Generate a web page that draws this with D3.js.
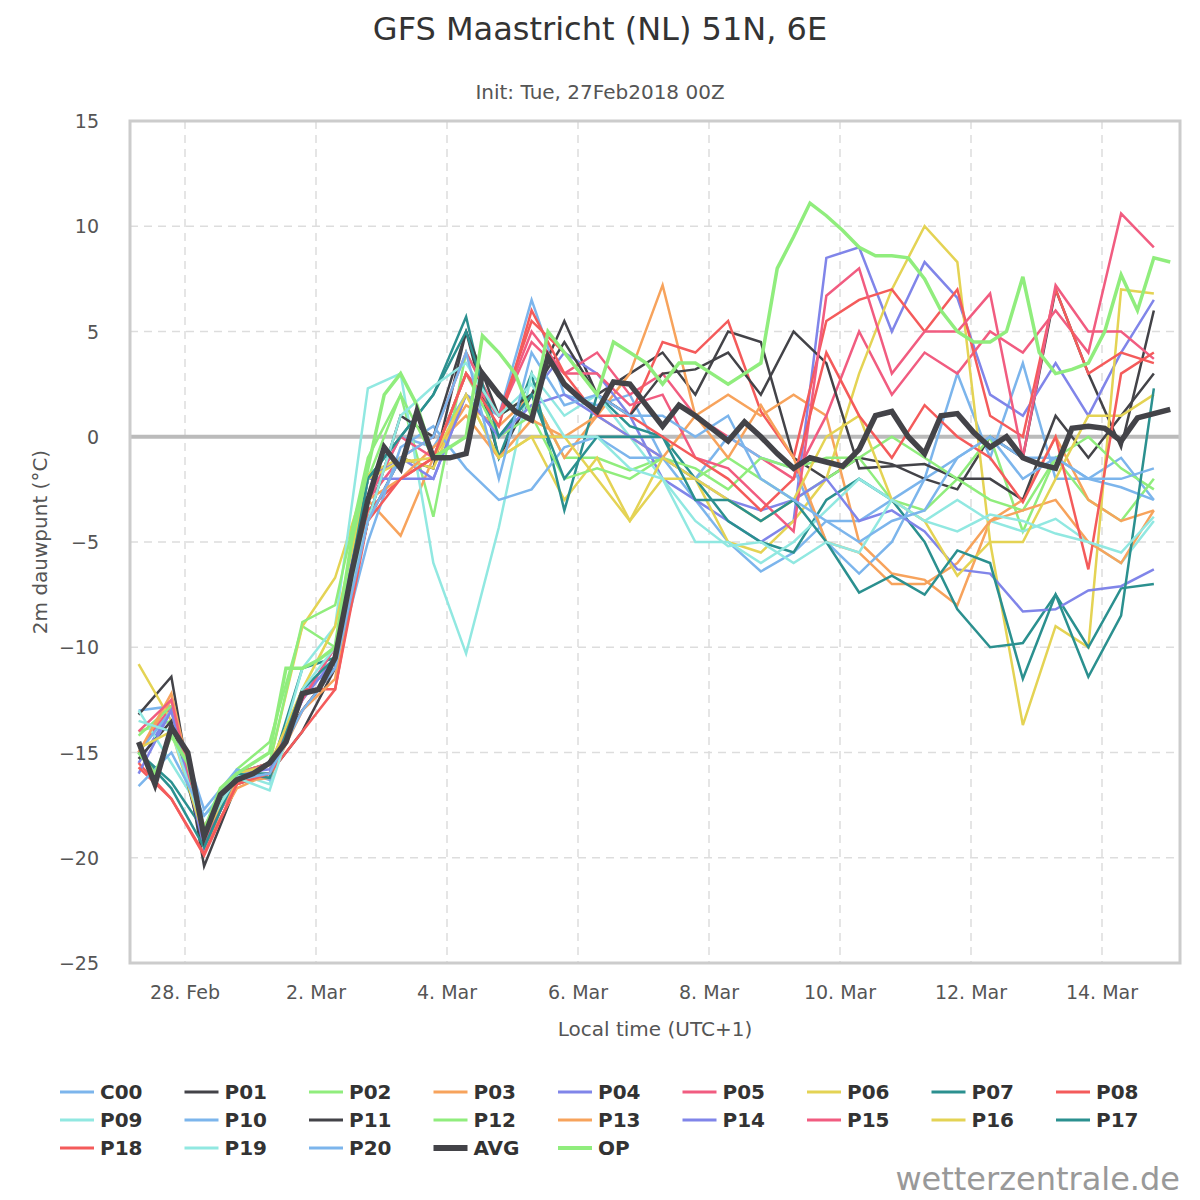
<!DOCTYPE html>
<html><head><meta charset="utf-8">
<script src="https://cdn.jsdelivr.net/npm/d3@7"></script>
<style>body{margin:0;background:#fff}text{font-family:"DejaVu Sans",sans-serif}</style>
</head><body><svg id="c" width="1200" height="1200"></svg>
<script>
// hours after init (27 Feb 00Z); local = UTC+1
const memberStep = 12, avgStep = 6, firstHour = 6;
const tickLabels = ["28. Feb","2. Mar","4. Mar","6. Mar","8. Mar","10. Mar","12. Mar","14. Mar"];
const yTicks = [15,10,5,0,-5,-10,-15,-20,-25];
const names = ["C00","P01","P02","P03","P04","P05","P06","P07","P08","P09","P10","P11","P12","P13","P14","P15","P16","P17","P18","P19","P20"];
const palette = ["#7cb5ec","#434348","#90ed7d","#f7a35c","#8085e9","#f15c80","#e4d354","#2b908f","#f45b5b","#91e8e1"];
const members = [
[-13,-12.8,-18.5,-16,-16.2,-12,-11,-3,0,-0.5,2,1,6.5,2,1.5,2,-1,-3,-5,-6.4,-5.5,-4,-4,-3,-2,3,-1,3.5,-2,-2,-1,-3],
[-13.2,-11.4,-20.4,-16.5,-16,-14,-11,-4,-1,-1.5,5,-1,2,5.5,2,3,4,2,5,4.5,-1,-2,-1,-1.3,-2,-2.5,0,-1,7,3,-0.5,6],
[-14,-13.5,-19.3,-15.8,-14.5,-9,-10,-2,2,-3.8,4,1,2,-1,-1,-1.6,-1,-2,-1,-2,-3,-2,-1,-3,-3.5,-2,0,-4.5,-1,-3,-4,-2],
[-15,-12.5,-19.5,-16.7,-16,-13,-11,-3,-4.7,-1,1.5,0.5,2,-1,1,3,7.2,1,2,1,2,1,-5,-6.5,-6.8,-8,-4,-3,0,-3,-4,-3.5],
[-15.5,-13,-19,-16.2,-16,-12.5,-10,-2,-1,-2,2,0,2,4,3,1,-2,-3,-4,-5,-4,8.5,9,5,8.3,6.6,2,1,3.5,1,4,6.5],
[-15,-12.8,-19,-16.5,-16,-13,-11,-3,-1,0,4,1,4.5,3,4,2,3,1,0,-1,-2,1,5,2,4,3,5,4,6,4,10.6,9],
[-10.8,-13.5,-18.5,-16,-15.5,-9,-6.7,-1.8,-1,-1.5,2,-1,0,-3,-1,-4,-2,-2,-5,-5.5,-4,-2,3,7,10,8.3,-5,-13.7,-9,-10,7,6.8],
[-15,-16.4,-18.7,-16,-16,-11,-10.5,-2,0,2,5.7,-1,3,-3.5,2,0.5,0,-2,-4,-5,-5.5,-3,-2,-3,-5,-8.2,-10,-9.8,-7.5,-10,-7.2,-7],
[-15.5,-17.2,-19.8,-16.5,-16,-12,-12,-3.5,-2,-1,3,1,5.5,4,2,1,4.5,4,5.5,1.2,-1,5.5,6.5,7,5,7,1,0,7,3,4,3.5],
[-13,-15.5,-18,-16,-16.5,-11,-9,2.3,3,-6,-10.3,-4.3,3,1,2,0,-2,-5,-5,-6,-5,-3.5,-2,-3,-4,-3,-4,-4.5,-3.9,-5,-6,-4],
[-15,-13,-17.7,-15.8,-16.3,-12,-11,-5,-0.5,0.5,-1.5,-3,-2.5,-0.5,0,-1,-1,-2,0,-1,-1.5,-5,-6.5,-5,-2,-1,0,-1,-1,-2,-2.4,-3],
[-15.3,-13.5,-19.5,-16,-15.5,-13,-11,-4,1,0,5,1,2,4.5,2,1,3,3.2,4,2,5,3.5,-1.5,-1.4,-1.3,-2,-2,-3,1,-1,1,3],
[-14.2,-12.8,-19,-16,-15.5,-8.8,-8,-1,2,-1,3,0,1,-2,-1.5,-2,-1,-1.5,-2.5,-1,-1.5,-1,-1,0,-1,-2,-3,-3.5,-1,0,-1.5,-2.5],
[-15,-12.2,-19,-16.4,-16.2,-13,-11.5,-3,-2,-0.5,1,-1,0.8,0,1,0,-1,1,-1,1.5,-1,-5,-5.5,-7,-7,-6,-4,-3.5,-3,-5,-6,-3.5],
[-16,-13,-19.5,-16,-15.8,-12.5,-10.5,-2,-2,-2,2,0,1.5,2,1,0,-1,-2,-3,-3.5,-3,-2,-4,-3.5,-4.5,-6.3,-6.5,-8.3,-8.2,-7.3,-7.1,-6.3],
[-14,-12.5,-19.2,-16,-15.5,-12.5,-10,-3,0,-1,3,1,5,3,3,1.5,2,-1,-1.5,-3,-4.5,6.7,8,3,5,5,6.8,-1,7.2,5,5,3.7],
[-14.8,-14,-19,-16,-15.6,-12,-9,-2,-1.2,-1,2,-1,0,0,-2,-4,-1,-2,-3,-4,-3,0,1,-3,-4,-6.6,-5,-5,-2,1,1,2],
[-15,-16.7,-19.5,-16,-16.2,-12,-10.5,-2,0,2,5,0,2,-2,0,0,0,-3,-3,-4,-3,-5,-7.4,-6.6,-7.5,-5.4,-6,-11.5,-7.5,-11.4,-8.5,2.3],
[-15.7,-17.2,-19.9,-16.5,-16,-14,-12,-4,-2,-1,3,0.5,6,3,1,1,0,-1,-2,-3.5,-2,4,1,-1,1.5,0,-1,-3.1,0,-6.3,3,4],
[-13.5,-14,-18.7,-16.2,-16.8,-12,-10,-4,1,2.4,3.5,1,2.5,0,0,-1.5,-2,-4,-5.2,-5,-6,-5,-5.5,-3,-4,-4.5,-3.7,-4,-4.6,-5,-5.5,-3.8],
[-16.6,-15,-18,-16.3,-16,-13,-11,-4,-1,0,4,-2,4,1.5,2,1,1,0,1,-2,-3,-4,-5,-4,-3.5,-1,0,-2,-1,-2,-2,-1.5]
];
const avg = [-14.5,-16.5,-13.8,-15,-19,-17,-16.3,-16,-15.5,-14.5,-12.2,-12,-10.5,-6.5,-3,-0.5,-1.5,1.2,-1,-1,-0.8,3,2,1.2,0.8,3.8,2.5,1.8,1.2,2.6,2.5,1.5,0.5,1.5,1,0.4,-0.2,0.7,0,-0.8,-1.5,-1,-1.2,-1.4,-0.6,1,1.2,0,-0.8,1,1.1,0.2,-0.5,0,-1,-1.3,-1.5,0.4,0.5,0.4,-0.2,0.9,1.1,1.3];
const op = [-15,-16,-14.2,-15.5,-18.7,-16.7,-16,-15.5,-15,-11,-11,-10.6,-10,-5,-1.5,2,3,1.5,-1,-0.5,0,4.8,4,3,1,5,4,3,2,4.5,4,3.5,2.5,3.5,3.5,3,2.5,3,3.5,8,9.5,11.1,10.5,9.8,9,8.6,8.6,8.5,7.5,6,5,4.5,4.5,5,7.6,4,3,3.2,3.5,5,7.7,6,8.5,8.3];

const svg = d3.select("#c");
const L = 130, R = 1180, T = 121, B = 963;
// local hours since 28 Feb 00:00 -> 28 Feb at 185px, 14 Mar at 1102px
const x = d3.scaleLinear().domain([0, 336]).range([185, 1102]);
const y = d3.scaleLinear().domain([-25, 15]).range([B, T]);
const localH = h => h + 1 - 24;

svg.append("text").attr("x", 600).attr("y", 40).attr("text-anchor", "middle")
  .attr("font-size", 32).attr("fill", "#333").text("GFS Maastricht (NL) 51N, 6E");
svg.append("text").attr("x", 600).attr("y", 99).attr("text-anchor", "middle")
  .attr("font-size", 20).attr("fill", "#555").text("Init: Tue, 27Feb2018 00Z");

const grid = svg.append("g").attr("stroke", "#ddd").attr("stroke-dasharray", "8,6").attr("stroke-width", 1.5);
yTicks.forEach(v => grid.append("line").attr("x1", L).attr("x2", R).attr("y1", y(v)).attr("y2", y(v)));
tickLabels.forEach((t, i) => grid.append("line").attr("x1", x(i*48)).attr("x2", x(i*48)).attr("y1", T).attr("y2", B));

svg.append("line").attr("x1", L).attr("x2", R).attr("y1", y(0)).attr("y2", y(0))
  .attr("stroke", "#bbb").attr("stroke-width", 4);

svg.append("defs").append("clipPath").attr("id", "clip").append("rect")
  .attr("x", L).attr("y", T).attr("width", R - L).attr("height", B - T);
const plot = svg.append("g").attr("clip-path", "url(#clip)");

const line = step => d3.line().x((d, i) => x(localH(firstHour + i*step))).y(d => y(d));
members.forEach((m, i) => plot.append("path").attr("d", line(memberStep)(m)).attr("fill", "none")
  .attr("stroke", palette[i % 10]).attr("stroke-width", 2.5));
plot.append("path").attr("d", line(avgStep)(op)).attr("fill", "none").attr("stroke", "#90ed7d").attr("stroke-width", 3.5);
plot.append("path").attr("d", line(avgStep)(avg)).attr("fill", "none").attr("stroke", "#434348").attr("stroke-width", 5.5);

svg.append("rect").attr("x", L).attr("y", T).attr("width", R - L).attr("height", B - T)
  .attr("fill", "none").attr("stroke", "#ccc").attr("stroke-width", 3);

yTicks.forEach(v => svg.append("text").attr("x", 99).attr("y", y(v) + 7).attr("text-anchor", "end")
  .attr("font-size", 19).attr("fill", "#555").text(v < 0 ? "\u2212" + (-v) : v));
tickLabels.forEach((t, i) => svg.append("text").attr("x", x(i*48)).attr("y", 999).attr("text-anchor", "middle")
  .attr("font-size", 19).attr("fill", "#555").text(t));
svg.append("text").attr("x", 655).attr("y", 1036).attr("text-anchor", "middle")
  .attr("font-size", 20).attr("fill", "#555").text("Local time (UTC+1)");
svg.append("text").attr("transform", "translate(47,542) rotate(-90)").attr("text-anchor", "middle")
  .attr("font-size", 20).attr("fill", "#555").text("2m dauwpunt (°C)");

const legend = names.map((n, i) => ({n, c: palette[i % 10], w: 3}))
  .concat([{n: "AVG", c: "#434348", w: 6}, {n: "OP", c: "#90ed7d", w: 4}]);
legend.forEach((d, i) => {
  const lx = 60 + (i % 9) * 124.5, ly = 1092 + Math.floor(i / 9) * 28;
  svg.append("line").attr("x1", lx).attr("x2", lx + 34).attr("y1", ly).attr("y2", ly)
    .attr("stroke", d.c).attr("stroke-width", d.w);
  svg.append("text").attr("x", lx + 40).attr("y", ly + 7).attr("font-size", 20).attr("font-weight", "bold")
    .attr("fill", "#333").text(d.n);
});
svg.append("text").attr("x", 1180).attr("y", 1190).attr("text-anchor", "end")
  .attr("font-size", 32).attr("fill", "#999").text("wetterzentrale.de");
</script></body></html>
